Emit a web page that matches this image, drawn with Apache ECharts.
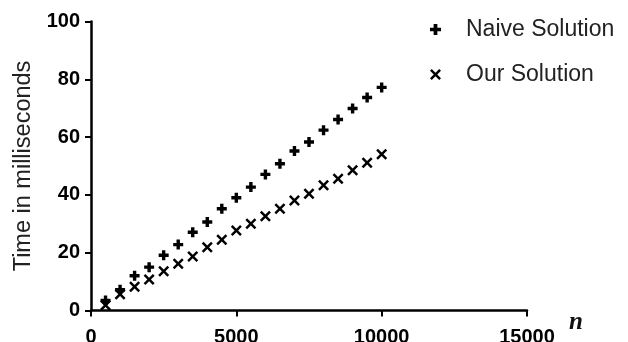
<!DOCTYPE html>
<html>
<head>
<meta charset="utf-8">
<script src="https://cdn.jsdelivr.net/npm/echarts@6/dist/echarts.min.js"></script>
<style>
  html, body { margin: 0; padding: 0; background: #fff; }
  #chart { width: 628px; height: 342px; }
</style>
</head>
<body>
<div id="chart"></div>
<script>
// Data
var nValues = [500, 1000, 1500, 2000, 2500, 3000, 3500, 4000, 4500, 5000,
               5500, 6000, 6500, 7000, 7500, 8000, 8500, 9000, 9500, 10000];
var naiveTimes = [3.5, 7.2, 12.0, 15.0, 19.1, 22.8, 27.1, 30.6, 35.2, 39.0,
                  42.7, 47.1, 50.8, 55.2, 58.3, 62.4, 66.1, 69.9, 73.7, 77.2];
var ourTimes = [1.8, 5.6, 8.2, 10.7, 13.6, 16.2, 18.7, 21.9, 24.5, 27.7,
                30.0, 32.6, 35.2, 38.1, 40.4, 43.3, 45.6, 48.5, 51.1, 54.1];
var seriesNames = ['Naive Solution', 'Our Solution'];
var yTicks = [0, 20, 40, 60, 80, 100];
var xTicks = [0, 5000, 10000, 15000];

function pairs(xs, ys) {
  var out = [];
  for (var i = 0; i < xs.length; i++) out.push([xs[i], ys[i]]);
  return out;
}

var plusPath = 'path://M3.3,0H6.7V3.3H10V6.7H6.7V10H3.3V6.7H0V3.3H3.3Z';
var crossPath = 'path://M0,1.6L1.6,0L5,3.4L8.4,0L10,1.6L6.6,5L10,8.4L8.4,10L5,6.6L1.6,10L0,8.4L3.4,5Z';

var chart = echarts.init(document.getElementById('chart'), null, { renderer: 'canvas' });
var axisFont = 'Liberation Sans, Arial, sans-serif';

chart.setOption({
  animation: false,
  backgroundColor: '#ffffff',
  grid: { left: 91, right: 101, top: 21.5, bottom: 31.5, containLabel: false, outerBoundsMode: 'none' },
  legend: {
    orient: 'vertical',
    left: 425,
    top: 13,
    itemGap: 22,
    itemWidth: 11,
    itemHeight: 11,
    textStyle: { fontFamily: axisFont, fontSize: 23, color: '#222', padding: [0, 0, 0, 20] },
    data: [
      { name: seriesNames[0], icon: plusPath, itemStyle: { color: '#000', opacity: 1 } },
      { name: seriesNames[1], icon: crossPath, itemStyle: { color: '#000', opacity: 1 } }
    ]
  },
  xAxis: {
    type: 'value',
    min: xTicks[0],
    max: xTicks[xTicks.length - 1],
    interval: xTicks[1] - xTicks[0],
    name: 'n',
    nameLocation: 'end',
    nameGap: 42,
    nameTextStyle: {
      fontFamily: 'Liberation Serif, serif',
      fontStyle: 'italic',
      fontWeight: 'bold',
      fontSize: 25,
      color: '#111',
      verticalAlign: 'top',
      padding: [0, 0, 0, 0]
    },
    splitLine: { show: false },
    axisLine: { onZero: false, lineStyle: { color: '#000', width: 2.5 } },
    axisTick: { show: true, inside: false, length: 6, lineStyle: { color: '#000', width: 2 } },
    axisLabel: {
      fontFamily: axisFont, fontWeight: 'bold', fontSize: 20, color: '#000', margin: 17,
      formatter: function (v) { return String(v); }
    }
  },
  yAxis: {
    type: 'value',
    min: yTicks[0],
    max: yTicks[yTicks.length - 1],
    interval: yTicks[1] - yTicks[0],
    name: 'Time in milliseconds',
    nameLocation: 'middle',
    nameGap: 53,
    nameTextStyle: { fontFamily: axisFont, fontSize: 23.5, color: '#222' },
    splitLine: { show: false },
    axisLine: { show: true, onZero: false, lineStyle: { color: '#000', width: 2.5 } },
    axisTick: { show: true, inside: false, length: 6, lineStyle: { color: '#000', width: 2 } },
    axisLabel: { fontFamily: axisFont, fontWeight: 'bold', fontSize: 20, color: '#000', margin: 11 }
  },
  series: [
    {
      name: seriesNames[0],
      type: 'scatter',
      symbol: plusPath,
      symbolSize: 10,
      itemStyle: { color: '#000', opacity: 1 },
      data: pairs(nValues, naiveTimes)
    },
    {
      name: seriesNames[1],
      type: 'scatter',
      symbol: crossPath,
      symbolSize: 11,
      itemStyle: { color: '#000', opacity: 1 },
      data: pairs(nValues, ourTimes)
    }
  ]
});
</script>
</body>
</html>
